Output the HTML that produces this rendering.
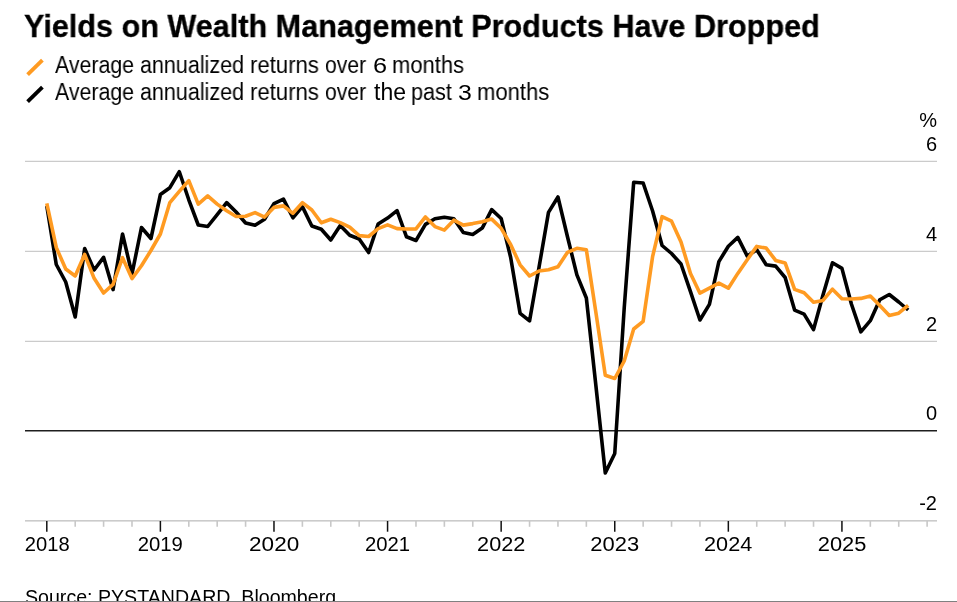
<!DOCTYPE html>
<html><head><meta charset="utf-8"><style>
html,body{margin:0;padding:0;background:#fff;}
body{width:957px;height:602px;overflow:hidden;position:relative;font-family:"Liberation Sans",sans-serif;color:#000;}
.t{position:absolute;white-space:nowrap;will-change:transform;}
#title{left:24.3px;top:6.2px;font-weight:bold;font-size:31.6px;line-height:40px;transform-origin:0 0;transform:scaleX(0.9686);-webkit-text-stroke:0.3px #000;}
.lg{font-size:23px;line-height:26px;transform-origin:0 0;}
#src{left:24.6px;top:585px;font-size:19.6px;line-height:24px;}
#bot{position:absolute;left:0;top:601px;width:957px;height:1px;background:#808080;}
svg{position:absolute;left:0;top:0;will-change:transform;}
</style></head><body>
<div class="t" id="title">Yields on Wealth Management Products Have Dropped</div>
<div class="t lg" style="top:52px;left:55.30px;transform:scaleX(0.9259)">Average</div>
<div class="t lg" style="top:52px;left:140.37px;transform:scaleX(0.9349)">annualized</div>
<div class="t lg" style="top:52px;left:250.24px;transform:scaleX(0.9629)">returns</div>
<div class="t lg" style="top:52px;left:325.08px;transform:scaleX(0.9205)">over</div>
<div class="t lg" style="top:53px;left:373.14px;transform:scaleX(1.1600);font-size:21.8px">6</div>
<div class="t lg" style="top:52px;left:392.15px;transform:scaleX(0.9541)">months</div>
<div class="t lg" style="top:79px;left:55.30px;transform:scaleX(0.9259)">Average</div>
<div class="t lg" style="top:79px;left:140.37px;transform:scaleX(0.9349)">annualized</div>
<div class="t lg" style="top:79px;left:250.24px;transform:scaleX(0.9629)">returns</div>
<div class="t lg" style="top:79px;left:325.08px;transform:scaleX(0.9205)">over</div>
<div class="t lg" style="top:79px;left:373.80px;transform:scaleX(0.9871)">the</div>
<div class="t lg" style="top:79px;left:410.96px;transform:scaleX(0.9405)">past</div>
<div class="t lg" style="top:80px;left:457.76px;transform:scaleX(1.1400);font-size:21.8px">3</div>
<div class="t lg" style="top:79px;left:476.74px;transform:scaleX(0.9568)">months</div>
<svg width="957" height="602" viewBox="0 0 957 602" font-family="Liberation Sans" font-size="20" fill="#000">
<line x1="27.6" y1="74.7" x2="42.4" y2="60.2" stroke="#ff9b22" stroke-width="3.9"/>
<line x1="27.6" y1="101.7" x2="42.4" y2="87.2" stroke="#000" stroke-width="3.9"/>
<rect x="25" y="160.75" width="912" height="1.25" fill="#cbcbcb"/>
<rect x="25" y="250.75" width="912" height="1.25" fill="#cbcbcb"/>
<rect x="25" y="340.75" width="912" height="1.25" fill="#cbcbcb"/>
<rect x="25" y="520" width="912" height="1.6" fill="#cbcbcb"/>
<rect x="25" y="430" width="912" height="1.5" fill="#1e1e1e"/>
<line x1="46.80" y1="521" x2="46.80" y2="531.7" stroke="#111" stroke-width="1.5"/><line x1="75.20" y1="521" x2="75.20" y2="526.8" stroke="#c8c8c8" stroke-width="1.6"/><line x1="103.59" y1="521" x2="103.59" y2="526.8" stroke="#c8c8c8" stroke-width="1.6"/><line x1="131.99" y1="521" x2="131.99" y2="526.8" stroke="#c8c8c8" stroke-width="1.6"/><line x1="160.39" y1="521" x2="160.39" y2="531.7" stroke="#111" stroke-width="1.5"/><line x1="188.79" y1="521" x2="188.79" y2="526.8" stroke="#c8c8c8" stroke-width="1.6"/><line x1="217.19" y1="521" x2="217.19" y2="526.8" stroke="#c8c8c8" stroke-width="1.6"/><line x1="245.58" y1="521" x2="245.58" y2="526.8" stroke="#c8c8c8" stroke-width="1.6"/><line x1="273.98" y1="521" x2="273.98" y2="531.7" stroke="#111" stroke-width="1.5"/><line x1="302.38" y1="521" x2="302.38" y2="526.8" stroke="#c8c8c8" stroke-width="1.6"/><line x1="330.78" y1="521" x2="330.78" y2="526.8" stroke="#c8c8c8" stroke-width="1.6"/><line x1="359.17" y1="521" x2="359.17" y2="526.8" stroke="#c8c8c8" stroke-width="1.6"/><line x1="387.57" y1="521" x2="387.57" y2="531.7" stroke="#111" stroke-width="1.5"/><line x1="415.97" y1="521" x2="415.97" y2="526.8" stroke="#c8c8c8" stroke-width="1.6"/><line x1="444.37" y1="521" x2="444.37" y2="526.8" stroke="#c8c8c8" stroke-width="1.6"/><line x1="472.76" y1="521" x2="472.76" y2="526.8" stroke="#c8c8c8" stroke-width="1.6"/><line x1="501.16" y1="521" x2="501.16" y2="531.7" stroke="#111" stroke-width="1.5"/><line x1="529.56" y1="521" x2="529.56" y2="526.8" stroke="#c8c8c8" stroke-width="1.6"/><line x1="557.96" y1="521" x2="557.96" y2="526.8" stroke="#c8c8c8" stroke-width="1.6"/><line x1="586.35" y1="521" x2="586.35" y2="526.8" stroke="#c8c8c8" stroke-width="1.6"/><line x1="614.75" y1="521" x2="614.75" y2="531.7" stroke="#111" stroke-width="1.5"/><line x1="643.15" y1="521" x2="643.15" y2="526.8" stroke="#c8c8c8" stroke-width="1.6"/><line x1="671.54" y1="521" x2="671.54" y2="526.8" stroke="#c8c8c8" stroke-width="1.6"/><line x1="699.94" y1="521" x2="699.94" y2="526.8" stroke="#c8c8c8" stroke-width="1.6"/><line x1="728.34" y1="521" x2="728.34" y2="531.7" stroke="#111" stroke-width="1.5"/><line x1="756.74" y1="521" x2="756.74" y2="526.8" stroke="#c8c8c8" stroke-width="1.6"/><line x1="785.13" y1="521" x2="785.13" y2="526.8" stroke="#c8c8c8" stroke-width="1.6"/><line x1="813.53" y1="521" x2="813.53" y2="526.8" stroke="#c8c8c8" stroke-width="1.6"/><line x1="841.93" y1="521" x2="841.93" y2="531.7" stroke="#111" stroke-width="1.5"/><line x1="870.33" y1="521" x2="870.33" y2="526.8" stroke="#c8c8c8" stroke-width="1.6"/><line x1="898.73" y1="521" x2="898.73" y2="526.8" stroke="#c8c8c8" stroke-width="1.6"/><line x1="927.12" y1="521" x2="927.12" y2="526.8" stroke="#c8c8c8" stroke-width="1.6"/>
<g text-anchor="end">
<text x="937" y="127">%</text>
<text x="937" y="151">6</text>
<text x="937" y="241">4</text>
<text x="937" y="331">2</text>
<text x="937" y="420">0</text>
<text x="937" y="510">-2</text>
</g>
<text x="24.80" y="550.8" textLength="44.80" lengthAdjust="spacingAndGlyphs">2018</text><text x="137.70" y="550.8" textLength="45.10" lengthAdjust="spacingAndGlyphs">2019</text><text x="249.10" y="550.8" textLength="50.10" lengthAdjust="spacingAndGlyphs">2020</text><text x="365.00" y="550.8" textLength="45.10" lengthAdjust="spacingAndGlyphs">2021</text><text x="477.10" y="550.8" textLength="48.20" lengthAdjust="spacingAndGlyphs">2022</text><text x="590.30" y="550.8" textLength="48.80" lengthAdjust="spacingAndGlyphs">2023</text><text x="704.10" y="550.8" textLength="48.10" lengthAdjust="spacingAndGlyphs">2024</text><text x="817.80" y="550.8" textLength="48.60" lengthAdjust="spacingAndGlyphs">2025</text>
<polyline points="46.80,206.0 56.27,264.5 65.73,282.0 75.20,317.0 84.66,248.5 94.13,270.0 103.59,257.3 113.06,289.6 122.53,234.0 131.99,274.0 141.46,227.5 150.92,238.5 160.39,194.5 169.86,187.7 179.32,171.7 188.79,199.8 198.25,225.0 207.72,226.5 217.19,214.6 226.65,202.6 236.12,212.0 245.58,223.0 255.05,225.3 264.51,219.3 273.98,203.6 283.45,199.1 292.91,217.8 302.38,206.6 311.84,226.0 321.31,229.2 330.78,240.0 340.24,225.6 349.71,235.3 359.17,239.0 368.64,252.5 378.10,224.1 387.57,218.1 397.04,210.6 406.50,236.8 415.97,240.5 425.43,224.4 434.90,218.7 444.37,217.2 453.83,218.7 463.30,232.6 472.76,234.5 482.23,228.1 491.69,209.6 501.16,218.5 510.63,257.3 520.09,313.4 529.56,320.9 539.02,267.3 548.49,212.4 557.96,197.0 567.42,236.5 576.89,274.9 586.35,298.0 595.82,385.0 605.28,473.0 614.75,453.5 624.22,308.0 633.68,182.3 643.15,183.0 652.61,211.0 662.08,245.5 671.54,253.5 681.01,264.0 690.48,291.7 699.94,320.0 709.41,304.4 718.87,261.6 728.34,246.2 737.81,237.4 747.27,256.1 756.74,249.7 766.20,264.8 775.67,266.1 785.13,277.5 794.60,310.1 804.07,314.1 813.53,329.6 823.00,295.0 832.46,262.8 841.93,268.4 851.40,304.0 860.86,331.8 870.33,320.7 879.79,299.8 889.26,294.5 898.73,302.0 908.19,310.0" fill="none" stroke="#000" stroke-width="3.6" stroke-linejoin="round"/>
<polyline points="46.80,203.3 56.27,247.5 65.73,269.0 75.20,276.0 84.66,254.4 94.13,278.3 103.59,293.0 113.06,284.4 122.53,257.7 131.99,278.6 141.46,265.8 150.92,250.5 160.39,234.0 169.86,202.6 179.32,191.4 188.79,180.6 198.25,204.1 207.72,195.9 217.19,204.1 226.65,210.8 236.12,216.5 245.58,216.3 255.05,212.6 264.51,217.1 273.98,207.4 283.45,205.9 292.91,213.3 302.38,202.6 311.84,210.0 321.31,222.8 330.78,219.2 340.24,222.6 349.71,227.1 359.17,235.6 368.64,236.5 378.10,228.6 387.57,224.8 397.04,228.6 406.50,229.0 415.97,228.9 425.43,216.9 434.90,226.6 444.37,230.1 453.83,220.2 463.30,225.1 472.76,223.6 482.23,221.7 491.69,219.1 501.16,228.3 510.63,244.5 520.09,264.8 529.56,276.0 539.02,271.0 548.49,269.8 557.96,266.7 567.42,252.4 576.89,248.3 586.35,249.7 595.82,312.0 605.28,375.3 614.75,378.5 624.22,361.0 633.68,329.0 643.15,321.3 652.61,256.5 662.08,216.7 671.54,221.2 681.01,242.0 690.48,273.5 699.94,293.2 709.41,288.2 718.87,283.1 728.34,288.2 737.81,273.4 747.27,259.7 756.74,246.4 766.20,248.1 775.67,260.4 785.13,262.9 794.60,289.4 804.07,292.7 813.53,302.2 823.00,300.4 832.46,289.2 841.93,298.7 851.40,299.0 860.86,298.4 870.33,296.0 879.79,305.6 889.26,315.5 898.73,313.2 908.19,305.3" fill="none" stroke="#ff9b22" stroke-width="3.6" stroke-linejoin="round"/>
</svg>
<div class="t" id="src">Source: PYSTANDARD, Bloomberg</div>
<div id="bot"></div>
</body></html>
